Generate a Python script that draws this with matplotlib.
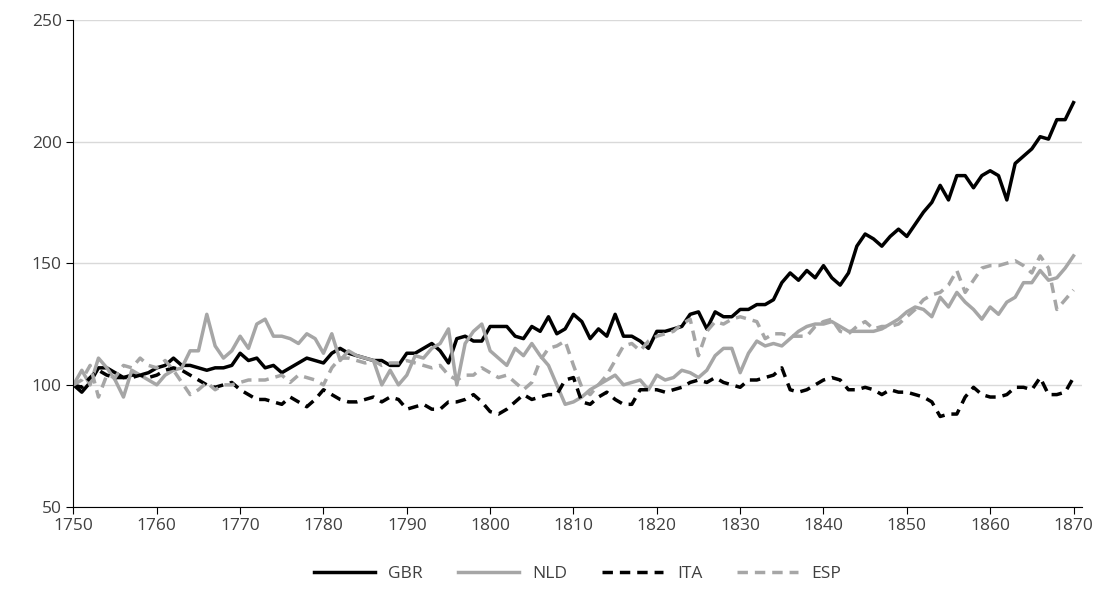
import numpy as np
import matplotlib
matplotlib.use('Agg')
import matplotlib.pyplot as plt

plt.rcParams['font.family'] = ['Open Sans', 'DejaVu Sans']

years = np.arange(1750, 1871)

gbr = [100, 97, 101, 107, 107, 105, 103, 104, 104, 105,
       107, 108, 111, 108, 108, 107, 106, 107, 107, 108,
       113, 110, 111, 107, 108, 105, 107, 109, 111, 110,
       109, 113, 115, 113, 112, 111, 110, 110, 108, 108,
       113, 113, 115, 117, 114, 109, 119, 120, 118, 118,
       124, 124, 124, 120, 119, 124, 122, 128, 121, 123,
       129, 126, 119, 123, 120, 129, 120, 120, 118, 115,
       122, 122, 123, 124, 129, 130, 123, 130, 128, 128,
       131, 131, 133, 133, 135, 142, 146, 143, 147, 144,
       149, 144, 141, 146, 157, 162, 160, 157, 161, 164,
       161, 166, 171, 175, 182, 176, 186, 186, 181, 186,
       188, 186, 176, 191, 194, 197, 202, 201, 209, 209,
       216]
nld = [100, 106, 100, 111, 107, 102, 95, 106, 104, 102,
       100, 104, 106, 107, 114, 114, 129, 116, 111, 114,
       120, 115, 125, 127, 120, 120, 119, 117, 121, 119,
       113, 121, 110, 114, 112, 111, 110, 100, 106, 100,
       104, 112, 111, 115, 117, 123, 100, 117, 122, 125,
       114, 111, 108, 115, 112, 117, 112, 108, 100, 92,
       93, 95, 98, 100, 102, 104, 100, 101, 102, 98,
       104, 102, 103, 106, 105, 103, 106, 112, 115, 115,
       105, 113, 118, 116, 117, 116, 119, 122, 124, 125,
       125, 126, 124, 122, 122, 122, 122, 123, 125, 127,
       130, 132, 131, 128, 136, 132, 138, 134, 131, 127,
       132, 129, 134, 136, 142, 142, 147, 143, 144, 148,
       153]
ita = [100, 99, 103, 106, 104, 103, 103, 103, 104, 103,
       104, 106, 107, 106, 104, 102, 100, 99, 100, 101,
       98, 96, 94, 94, 93, 92, 95, 93, 91, 94,
       98, 96, 94, 93, 93, 94, 95, 93, 95, 94,
       90, 91, 92, 90, 90, 93, 93, 94, 96, 93,
       89, 88, 90, 93, 96, 94, 95, 96, 96, 102,
       103, 93, 92, 95, 97, 94, 92, 92, 98, 98,
       98, 97, 98, 99, 101, 102, 101, 103, 101, 100,
       99, 102, 102, 103, 104, 107, 98, 97, 98, 100,
       102, 103, 102, 98, 98, 99, 98, 96, 98, 97,
       97, 96, 95, 93, 87, 88, 88, 95, 99, 96,
       95, 95, 96, 99, 99, 98, 103, 96, 96, 97,
       103]
esp = [100, 102, 108, 95, 104, 103, 108, 107, 111, 108,
       107, 110, 106, 101, 96, 98, 101, 98, 100, 100,
       101, 102, 102, 102, 103, 104, 101, 104, 103, 102,
       100, 107, 111, 111, 110, 109, 110, 108, 109, 109,
       110, 109, 108, 107, 108, 104, 102, 104, 104, 107,
       105, 103, 104, 101, 98, 101, 110, 115, 116, 118,
       108, 99, 96, 100, 104, 110, 116, 117, 114, 118,
       120, 121, 122, 125, 127, 112, 122, 126, 125, 127,
       128, 127, 126, 119, 121, 121, 120, 120, 120, 124,
       126, 127, 122, 121, 124, 126, 123, 124, 124, 125,
       128, 131, 135, 137, 138, 141, 147, 138, 143, 148,
       149, 149, 150, 151, 149, 146, 153, 148, 131, 135,
       139]

fig, ax = plt.subplots(figsize=(11.13, 6.03), dpi=100)
fig.subplots_adjust(left=0.066, right=0.972, top=0.967, bottom=0.16)

ax.plot(years, gbr, color='black', lw=2.5, label='GBR')
ax.plot(years, nld, color='#a6a6a6', lw=2.5, label='NLD')
ax.plot(years, ita, color='black', lw=2.5, ls=(0, (3, 2)), label='ITA')
ax.plot(years, esp, color='#a6a6a6', lw=2.5, ls=(0, (3, 2)), label='ESP')

ax.set_xlim(1750, 1871)
ax.set_ylim(50, 250)
ax.set_xticks(np.arange(1750, 1871, 10))
ax.set_yticks(np.arange(50, 251, 50))
ax.yaxis.grid(True, color='#d9d9d9', lw=1)
ax.set_axisbelow(True)
for s in ['top', 'right']:
    ax.spines[s].set_visible(False)
ax.spines['left'].set_color('black')
ax.spines['bottom'].set_color('black')
ax.tick_params(axis='both', labelsize=12.5, labelcolor='#404040', color='black',
               direction='out', length=5)

ax.legend(loc='upper center', bbox_to_anchor=(0.5, -0.09), ncol=4, frameon=False,
          fontsize=12.5, handlelength=3.5, columnspacing=2, labelcolor='#404040')

fig.savefig('out.png')
